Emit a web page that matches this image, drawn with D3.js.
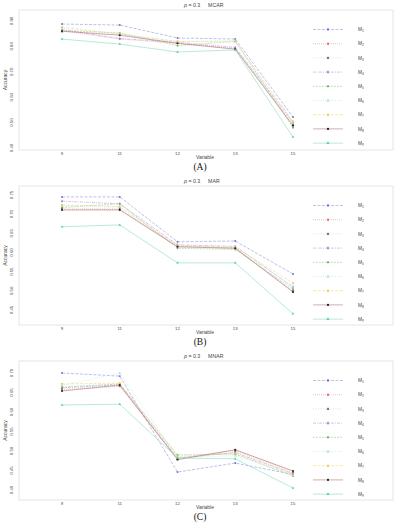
<!DOCTYPE html>
<html lang="en">
<head>
  <meta charset="UTF-8">
  <title>Accuracy by variable, rho = 0.3</title>
  <style>
    body { margin: 0; background: #fff; }
    svg { display: block; }
    text { font-family: "Liberation Sans", Arial, sans-serif; fill: #444; opacity: 0.99; }
    .caption { font-family: "Liberation Serif", "Times New Roman", serif; fill: #111; }
  </style>
</head>
<body>
<script src="https://d3js.org/d3.v7.min.js"></script>
<script>
// categories and series
const variables = ["9", "11", "12", "13", "15"];
const methods = ["M1", "M2", "M3", "M4", "M5", "M6", "M7", "M8", "M9"];

// accuracy, one row per method (M1..M9), columns follow `variables`
const mcar = [
  [0.888, 0.884, 0.833, 0.829, 0.522],
  [0.861, 0.829, 0.812, 0.792, 0.494],
  [0.859, 0.846, 0.814, 0.790, 0.490],
  [0.866, 0.831, 0.816, 0.796, 0.502],
  [0.862, 0.853, 0.803, 0.820, 0.480],
  [0.870, 0.850, 0.818, 0.823, 0.498],
  [0.876, 0.848, 0.820, 0.818, 0.505],
  [0.860, 0.844, 0.812, 0.789, 0.488],
  [0.829, 0.809, 0.778, 0.786, 0.443]
];
const mar = [
  [0.745, 0.745, 0.628, 0.630, 0.544],
  [0.713, 0.712, 0.616, 0.612, 0.498],
  [0.716, 0.714, 0.617, 0.612, 0.500],
  [0.734, 0.727, 0.620, 0.616, 0.510],
  [0.718, 0.727, 0.611, 0.608, 0.505],
  [0.722, 0.718, 0.614, 0.610, 0.512],
  [0.724, 0.720, 0.618, 0.614, 0.520],
  [0.711, 0.711, 0.615, 0.611, 0.497],
  [0.667, 0.672, 0.573, 0.573, 0.440]
];
const mnar = [
  [0.700, 0.692, 0.446, 0.469, 0.440],
  [0.656, 0.666, 0.480, 0.503, 0.447],
  [0.660, 0.668, 0.478, 0.500, 0.444],
  [0.662, 0.670, 0.482, 0.496, 0.442],
  [0.664, 0.672, 0.490, 0.492, 0.436],
  [0.668, 0.700, 0.484, 0.488, 0.438],
  [0.672, 0.674, 0.486, 0.494, 0.440],
  [0.654, 0.669, 0.478, 0.503, 0.449],
  [0.618, 0.620, 0.482, 0.480, 0.405]
];

// y tick labels per panel
const ticksA = [0.40, 0.50, 0.60, 0.70, 0.80, 0.90];
const ticksB = [0.45, 0.50, 0.55, 0.60, 0.65, 0.70, 0.75];
const ticksC = [0.40, 0.45, 0.50, 0.55, 0.60, 0.65, 0.70];

// styling per method
const colors = ["#8c8cdc", "#e89090", "#c4c4c4", "#b092dc", "#8cc88c", "#bde6e6", "#f2d472", "#b06a68", "#7ad8bc"];
const markerColors = ["#7070d0", "#d86a6a", "#555", "#9a7ed0", "#66b466", "#a6dcdc", "#ecc64c", "#222", "#55cba4"];
const dashes = ["3,1.5", "1,1", "1,1.5", "3,1,1,1", "2,1", "1,1", "3,1.5", null, null];
const symbols = [d3.symbolCircle, d3.symbolSquare, d3.symbolTriangle, d3.symbolDiamond,
  d3.symbolCircle, d3.symbolTriangle, d3.symbolSquare, d3.symbolCircle, d3.symbolTriangle];

const width = 400, height = 530;
const svg = d3.select("body").append("svg")
  .attr("width", width)
  .attr("height", height);

const x = d3.scalePoint().domain(variables).range([62, 293]);

const panels = [
  {title: "MCAR", caption: "(A)", data: mcar, ticks: ticksA, top: 10, bottom: 150, tickTop: 21, tickBottom: 148},
  {title: "MAR", caption: "(B)", data: mar, ticks: ticksB, top: 186, bottom: 325, tickTop: 195, tickBottom: 310},
  {title: "MNAR", caption: "(C)", data: mnar, ticks: ticksC, top: 361, bottom: 500, tickTop: 373, tickBottom: 490}
];

panels.forEach(p => {
  const g = svg.append("g");
  const y = d3.scaleLinear()
    .domain([p.ticks[0], p.ticks[p.ticks.length - 1]])
    .range([p.tickBottom, p.tickTop]);

  // frame
  g.append("rect")
    .attr("x", 19).attr("y", p.top)
    .attr("width", 374).attr("height", p.bottom - p.top)
    .attr("fill", "none").attr("stroke", "#dedede").attr("stroke-width", 0.8);

  // title
  const t = g.append("text")
    .attr("x", 184).attr("y", p.top - 3)
    .attr("font-size", 5.2);
  t.append("tspan").attr("font-style", "italic").text("\u03C1");
  t.append("tspan").text(" = 0.3");
  t.append("tspan").attr("dx", 8).text(p.title);

  // y axis tick labels (rotated)
  g.selectAll(".ytick").data(p.ticks).enter().append("text")
    .attr("transform", d => `translate(13,${y(d)}) rotate(-90)`)
    .attr("text-anchor", "middle").attr("font-size", 4.3)
    .text(d => d3.format(".2f")(d));

  g.append("text")
    .attr("transform", `translate(7,${(p.top + p.bottom) / 2}) rotate(-90)`)
    .attr("text-anchor", "middle").attr("font-size", 5)
    .text("Accuracy");

  // x axis tick labels
  g.selectAll(".xtick").data(variables).enter().append("text")
    .attr("x", d => x(d)).attr("y", p.bottom + 4.5)
    .attr("text-anchor", "middle").attr("font-size", 4.3)
    .text(d => d);

  g.append("text")
    .attr("x", 205).attr("y", p.bottom + 8.5)
    .attr("text-anchor", "middle").attr("font-size", 5)
    .text("Variable");

  g.append("text").attr("class", "caption")
    .attr("x", 200).attr("y", p.bottom + 20)
    .attr("text-anchor", "middle").attr("font-size", 9.5)
    .text(p.caption);

  // series
  const line = d3.line().x((d, i) => x(variables[i])).y(d => y(d));
  p.data.forEach((vals, k) => {
    g.append("path")
      .attr("d", line(vals))
      .attr("fill", "none")
      .attr("stroke", colors[k])
      .attr("stroke-width", 0.55)
      .attr("stroke-dasharray", dashes[k]);
    g.selectAll(null).data(vals).enter().append("path")
      .attr("transform", (d, i) => `translate(${x(variables[i])},${y(d)})`)
      .attr("d", d3.symbol().type(symbols[k]).size(3))
      .attr("fill", markerColors[k]);
  });

  // legend
  const lg = g.append("g");
  methods.forEach((m, k) => {
    const ly = p.top + 19.5 + k * 14.2;
    lg.append("line")
      .attr("x1", 313).attr("x2", 343).attr("y1", ly).attr("y2", ly)
      .attr("stroke", colors[k]).attr("stroke-width", 0.55)
      .attr("stroke-dasharray", dashes[k]);
    lg.append("path")
      .attr("transform", `translate(328,${ly})`)
      .attr("d", d3.symbol().type(symbols[k]).size(4))
      .attr("fill", markerColors[k]);
    const lt = lg.append("text")
      .attr("x", 358).attr("y", ly + 1.6)
      .attr("font-size", 4.8);
    lt.append("tspan").text("M");
    lt.append("tspan").attr("font-size", 3.3).attr("dy", 1).text(m.slice(1));
  });
});
</script>
</body>
</html>
